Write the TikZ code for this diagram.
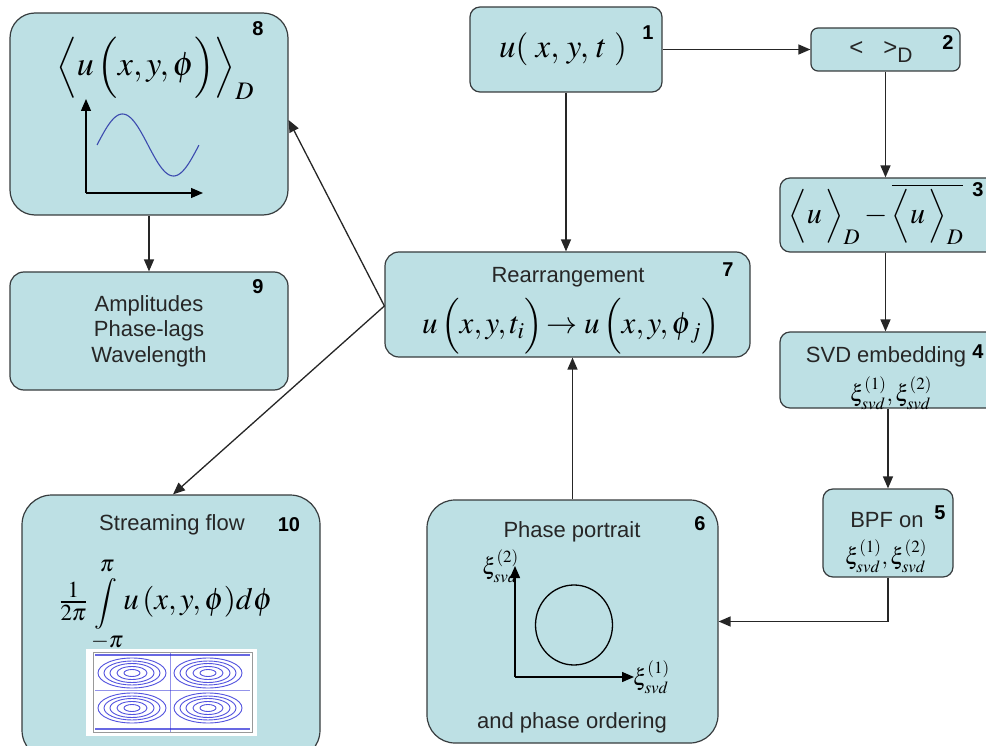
\documentclass[tikz,border=0pt]{standalone}
\usepackage{mathptmx}
\usepackage[no-math]{fontspec}
\setmainfont{Liberation Sans}
\usetikzlibrary{arrows.meta,shapes.geometric}
\definecolor{boxc}{RGB}{189,224,228}
\definecolor{bordc}{RGB}{55,60,62}
\definecolor{sinec}{RGB}{60,75,175}
\definecolor{flowc}{RGB}{40,40,215}
\newcommand\dsz[1]{\vcenter{\hrule height #1 width 0pt}}
\begin{document}
\begin{tikzpicture}[x=1pt,y=-1pt,
  box/.style={draw=bordc, fill=boxc, line width=1.2pt, rounded corners=#1, inner sep=0pt},
  txt/.style={font=\fontsize{22}{26}\selectfont, inner sep=0pt, align=center, text=black!85},
  num/.style={font=\fontsize{20}{24}\selectfont\bfseries, inner sep=0pt},
  mth/.style={font=\fontsize{#1}{#1}\selectfont, inner sep=0pt},
  conn/.style={draw=black!85, line width=1.3pt, -{Triangle[length=12pt,width=10pt]}},
  axis/.style={draw=black, line width=1.4pt, -{Triangle[length=12pt,width=10pt]}}]
\clip (0,0) rectangle (986,746);
% boxes
\node[box=10pt, minimum width=192pt, minimum height=85pt] (b1) at (566,49.5) {};
\node[box=7pt, minimum width=149pt, minimum height=43pt] (b2) at (885.5,49.5) {};
\node[box=10pt, minimum width=220pt, minimum height=74pt] (b3) at (890,215) {};
\node[box=10pt, minimum width=220pt, minimum height=76pt] (b4) at (890,370) {};
\node[box=10pt, minimum width=130pt, minimum height=88pt] (b5) at (888,533) {};
\node[box=28pt, minimum width=291pt, minimum height=243pt] (b6) at (572.5,621.5) {};
\node[box=14pt, minimum width=365pt, minimum height=105pt] (b7) at (567.5,304.5) {};
\node[box=25pt, minimum width=278pt, minimum height=202pt] (b8) at (149,114) {};
\node[box=14pt, minimum width=278pt, minimum height=118pt] (b9) at (149,331) {};
\node[box=30pt, minimum width=298pt, minimum height=265pt] (b10) at (171,627.5) {};
% numbers
\node[num] (n1) at (648,33) {1};
\node[num] (n2) at (948,43) {2};
\node[num] (n3) at (978,190) {3};
\node[num] (n4) at (978,352) {4};
\node[num] (n5) at (940,513) {5};
\node[num] (n6) at (700,524) {6};
\node[num] (n7) at (728,270) {7};
\node[num] (n8) at (258,29) {8};
\node[num] (n9) at (258,287) {9};
\node[num] (n10) at (289,525) {10};
% box 1
\node[mth=33] (t1) at (563,49) {$u(\;x,\,y,\,t\;)$};
% box 2
\node[txt] (t2) at (881,52) {\fontsize{24}{24}\selectfont<\hspace{20pt}>\raisebox{-7pt}{\fontsize{21}{21}\selectfont D}};
% box 3
\node[mth=30] (t3) at (876,214) {$\left\langle\dsz{54pt} u\,\right\rangle_{D}-\overline{\left\langle\dsz{54pt} u\,\right\rangle_{D}}$};
% box 4
\node[txt] (t4a) at (886,357) {SVD embedding};
\node[mth=23] (t4b) at (891,393) {$\xi^{(1)}_{svd},\xi^{(2)}_{svd}$};
% box 5
\node[txt] (t5a) at (887,520) {BPF on};
\node[mth=23] (t5b) at (886,556) {$\xi^{(1)}_{svd},\xi^{(2)}_{svd}$};
% box 7
\node[txt] (t7a) at (568,277) {Rearrangement};
\node[mth=31] (t7b) at (571,326) {$u\left(\dsz{46pt}x,y,t_{i}\right)\!\to u\left(\dsz{46pt}x,y,\phi_{\,j}\right)$};
% box 8
\node[mth=34] (t8) at (155,68) {$\left\langle\dsz{47pt} u\left(\dsz{47pt}x,y,\phi\right)\right\rangle_{D}$};
\coordinate (o8) at (86,193);
\coordinate (y8) at (86,99);
\coordinate (x8) at (203,193);
\draw[axis, line width=1.3pt] (o8) -- (y8);
\draw[axis, line width=1.3pt] (o8) -- (x8);
\draw[sinec, line width=1.1pt] plot[domain=0:1, samples=80, smooth] ({97+102*\x},{145-31*sin(360*\x)});
% box 9
\node[txt] (t9) at (149,331) {Amplitudes\\[-0.5pt]Phase-lags\\[-0.5pt]Wavelength};
% box 10
\node[txt] (t10a) at (172,525) {Streaming flow};
\node[mth=31] (t10b) at (166,605) {$\frac{1}{2\pi}\mathop{\scalebox{0.82}{$\displaystyle\int$}}\limits_{-\pi}^{\pi}\!u\left(x,y,\phi\right)\!d\phi$};
\fill[white] (86,649) rectangle (257,736);
\begin{scope}[flowc, line width=0.9pt]
  \foreach \cx/\cy in {132/673, 208/673, 132/708, 208/708} {
    \foreach \rx/\ry in {34/15, 28/12, 22/9.5, 15/6.5, 8/3.5} {
      \draw[opacity=0.8] (\cx,\cy) ellipse [x radius=\rx pt, y radius=\ry pt];
    }
  }
  \draw[line width=2pt, opacity=0.7] (95,655) -- (250,655);
  \draw[line width=2pt, opacity=0.7] (95,729) -- (250,729);
  \draw[line width=0.4pt, opacity=0.5] (95,690.5) -- (250,690.5);
  \draw[line width=0.4pt, opacity=0.5] (170,652) -- (170,732);
\end{scope}
\draw[black!40, line width=0.3pt] (93,652) rectangle (252,732);
% box 6
\node[txt] (t6a) at (572,532) {Phase portrait};
\coordinate (o6) at (515,677);
\coordinate (y6) at (515,566);
\coordinate (x6) at (634,677);
\draw[axis] (o6) -- (y6);
\draw[axis] (o6) -- (x6);
\node[draw=black, line width=1.3pt, ellipse, minimum width=77pt, minimum height=80pt, inner sep=0pt] (c6) at (574,625) {};
\node[mth=23, anchor=east] (l6y) at (519,566) {$\xi^{(2)}_{svd}$};
\node[mth=23, anchor=west] (l6x) at (633,677) {$\xi^{(1)}_{svd}$};
\node[txt] (t6b) at (572,723) {and phase ordering};
% connectors
\draw[conn] (b1.east) -- (b2.west);
\draw[conn] (b2.south) -- (b2.south |- b3.north);
\draw[conn] (b2.south |- b3.south) -- (b2.south |- b4.north);
\draw[conn] (b5.north |- b4.south) -- (b5.north);
\draw[conn] (b5.south) |- (b6.east);
\draw[conn] (b6.north) -- (b6.north |- b7.south);
\draw[conn] (b1.south) -- (b1.south |- b7.north);
\draw[conn] ([yshift=-1.5pt]b7.west) -- ([yshift=-6pt]b8.east);
\draw[conn] ([yshift=-1.5pt]b7.west) -- ([xshift=2pt]b10.north);
\draw[conn] (b8.south) -- (b9.north);
\end{tikzpicture}
\end{document}
